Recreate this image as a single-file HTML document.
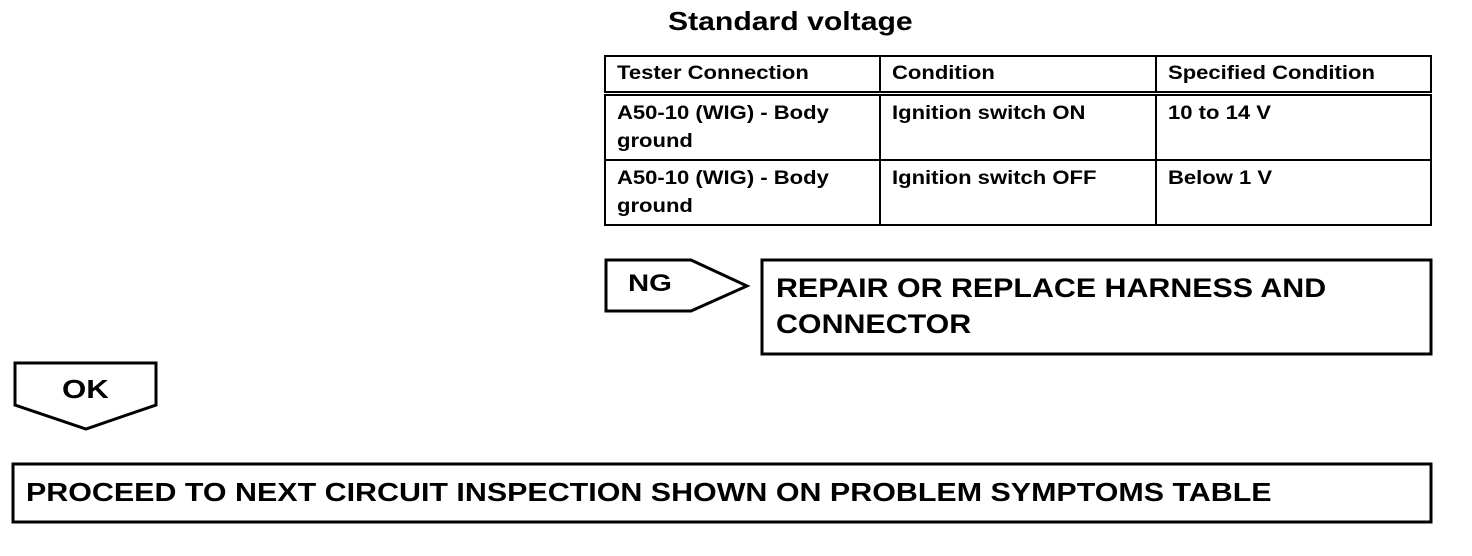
<!DOCTYPE html>
<html><head><meta charset="utf-8"><style>
body{margin:0;width:1472px;height:556px;background:#fff;position:relative;overflow:hidden;font-family:"Liberation Sans",Arial,sans-serif;font-weight:bold;color:#000}
.a{position:absolute;white-space:nowrap;transform-origin:left top}
table{position:absolute;left:604px;top:55px;border-collapse:collapse;width:828px}
td{border:2px solid #000;vertical-align:top;font-size:19px;line-height:28px;padding:3px 11px;width:253px;white-space:nowrap}
td span{display:inline-block;transform:scaleX(1.16);transform-origin:left top}
tr.h td{border-bottom:5px double #000;height:28px;padding-top:3px}
tr.r td{height:56px;padding-top:4px}
</style></head><body>
<div class="a" style="left:668px;top:6px;font-size:26px;transform:scaleX(1.16)">Standard voltage</div>
<table>
<tr class="h"><td><span>Tester Connection</span></td><td><span>Condition</span></td><td><span>Specified Condition</span></td></tr>
<tr class="r"><td><span>A50-10 (WIG) - Body<br>ground</span></td><td><span>Ignition switch ON</span></td><td><span>10 to 14 V</span></td></tr>
<tr class="r"><td><span>A50-10 (WIG) - Body<br>ground</span></td><td><span>Ignition switch OFF</span></td><td><span>Below 1 V</span></td></tr>
</table>
<svg class="a" style="left:0;top:0" width="1472" height="556">
<polygon points="606,260 691,260 747,286 691,311 606,311" fill="none" stroke="#000" stroke-width="3"/>
<rect x="762" y="260" width="669" height="94" fill="none" stroke="#000" stroke-width="3"/>
<polygon points="15,363 156,363 156,405 86,429 15,405" fill="none" stroke="#000" stroke-width="3"/>
<rect x="13" y="464" width="1418" height="58" fill="none" stroke="#000" stroke-width="3"/>
</svg>
<div class="a" style="left:628px;top:270px;font-size:24px;transform:scaleX(1.22)">NG</div>
<div class="a" style="left:776px;top:270px;font-size:27px;line-height:36px;transform:scaleX(1.125)">REPAIR OR REPLACE HARNESS AND<br>CONNECTOR</div>
<div class="a" style="left:62px;top:374px;font-size:26px;transform:scaleX(1.2)">OK</div>
<div class="a" style="left:26px;top:477px;font-size:26px;transform:scaleX(1.17)">PROCEED TO NEXT CIRCUIT INSPECTION SHOWN ON PROBLEM SYMPTOMS TABLE</div>
</body></html>
